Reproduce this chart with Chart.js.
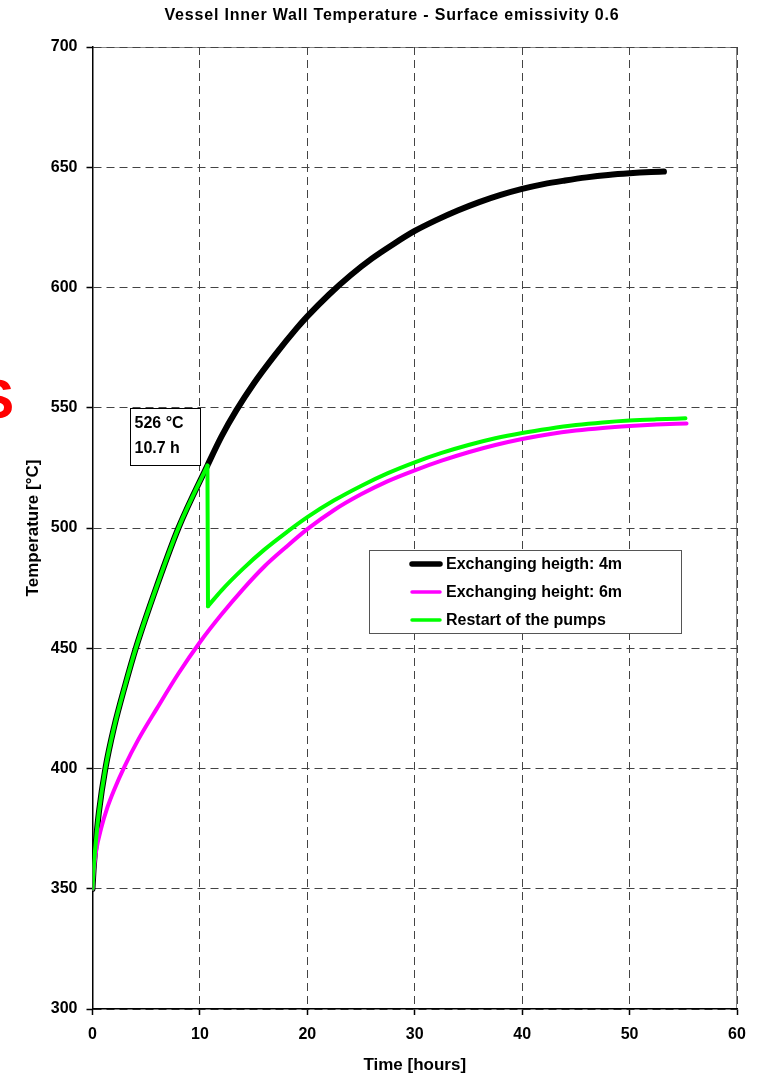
<!DOCTYPE html>
<html>
<head>
<meta charset="utf-8">
<script src="https://cdn.jsdelivr.net/npm/chart.js@4.4.0/dist/chart.umd.min.js"></script>
<style>
  html, body { margin: 0; padding: 0; background: #fff; }
  canvas { display: block; }
</style>
</head>
<body>
<canvas id="chart" width="758" height="1080"></canvas>
<script>
const FONT = "'Liberation Sans', Arial, sans-serif"

const hourTicks = [0, 10, 20, 30, 40, 50, 60]
const tempTicks = [300, 350, 400, 450, 500, 550, 600, 650, 700]

// Exchanging heigth: 4m
const h4Time = [0, 0.1, 0.3, 0.6, 1.2, 2, 3, 4.1, 6, 8, 10.7, 12, 13.4, 15, 17, 19, 20, 22, 24, 26, 28, 30, 32, 34, 36, 38, 40, 42, 44, 46, 48, 50, 52, 53.2]
const h4Temp = [350, 358, 369, 382, 400, 417, 434, 451, 476, 500, 526, 538, 549, 560, 572, 583, 588, 597, 605, 612, 618, 623.5, 628, 632, 635.5, 638.5, 641, 643, 644.5, 645.8, 646.8, 647.5, 648, 648.2]

// Exchanging height: 6m
const h6Time = [0, 0.1, 0.35, 0.8, 1.4, 2, 3, 4.2, 6, 8, 10, 12, 14, 16, 18, 20, 22.5, 25, 27.5, 30, 32.5, 35, 37.5, 40, 42.5, 45, 47.5, 50, 52.5, 55.3]
const h6Temp = [350, 357, 366, 375, 384, 391, 401, 411.5, 425, 439.5, 452.5, 464, 474.5, 484, 492, 499.5, 507.5, 514, 519.5, 524, 528, 531.5, 534.5, 537, 539, 540.5, 541.6, 542.4, 543, 543.5]

// Restart of the pumps: same heating as 4m, drop at 10.7 h, then recovery
const pumpsBeforeTime = [0, 0.1, 0.3, 0.6, 1.2, 2, 3, 4.1, 6, 8, 10.7]
const pumpsBeforeTemp = [350, 358, 369, 382, 400, 417, 434, 451, 476, 500, 526]
const pumpsDropTime = [10.7, 10.75]
const pumpsDropTemp = [526, 467.5]
const pumpsAfterTime = [10.75, 12, 14, 16, 18, 20, 22.5, 25, 27.5, 30, 32.5, 35, 37.5, 40, 42.5, 45, 47.5, 50, 52.5, 55.2]
const pumpsAfterTemp = [467.5, 474, 483, 491, 498, 504.5, 511.5, 517.5, 522.8, 527.3, 531.2, 534.5, 537.3, 539.5, 541.3, 542.8, 543.9, 544.7, 545.2, 545.6]

const peakTemp = 526
const peakTime = 10.7

const toPoints = (xs, ys) => xs.map((x, i) => ({x: x, y: ys[i]}))

const lineSet = (label, xs, ys, color, width, order, legend) => ({
  label: label,
  data: toPoints(xs, ys),
  borderColor: color,
  borderWidth: width,
  pointRadius: 0,
  fill: false,
  cubicInterpolationMode: 'monotone',
  borderCapStyle: 'round',
  borderJoinStyle: 'round',
  order: order,
  inLegend: legend
})

const frame = {
  id: 'frame',
  beforeDraw(chart) {
    const {ctx, chartArea: a} = chart
    ctx.save()
    ctx.strokeStyle = '#888'
    ctx.lineWidth = 1
    ctx.beginPath()
    ctx.moveTo(a.left, a.top + 0.5)
    ctx.lineTo(a.right - 0.5, a.top + 0.5)
    ctx.lineTo(a.right - 0.5, a.bottom)
    ctx.stroke()
    ctx.restore()
  }
}

const overlay = {
  id: 'overlay',
  afterDraw(chart) {
    const {ctx, scales} = chart
    const x = scales.x, y = scales.y
    ctx.save()

    // title
    ctx.fillStyle = '#000'
    ctx.font = 'bold 16px ' + FONT
    ctx.letterSpacing = '0.8px'
    ctx.textAlign = 'center'
    ctx.textBaseline = 'alphabetic'
    ctx.fillText('Vessel Inner Wall Temperature - Surface emissivity 0.6', 392, 20)
    ctx.letterSpacing = '0px'

    // red mark cut by the left edge
    ctx.fillStyle = '#ff0000'
    ctx.font = 'bold 56px ' + FONT
    ctx.textAlign = 'right'
    ctx.fillText('S', 14, 418)

    // peak label box
    const bx2 = Math.round(x.getPixelForValue(10)) + 0.5
    const by1 = Math.round(y.getPixelForValue(550)) + 0.5
    const bx1 = bx2 - 70, by2 = by1 + 57
    ctx.fillStyle = '#fff'
    ctx.fillRect(bx1, by1, bx2 - bx1, by2 - by1)
    ctx.strokeStyle = '#000'
    ctx.lineWidth = 1
    ctx.strokeRect(bx1, by1, bx2 - bx1, by2 - by1)
    ctx.fillStyle = '#000'
    ctx.font = 'bold 16px ' + FONT
    ctx.textAlign = 'left'
    ctx.fillText(peakTemp + ' \u00B0C', bx1 + 4, by1 + 19)
    ctx.fillText(peakTime + ' h', bx1 + 4, by1 + 44)

    // legend
    const lx = 369.5, ly = 550.5, lw = 312, lh = 83
    ctx.fillStyle = '#fff'
    ctx.fillRect(lx, ly, lw, lh)
    ctx.strokeStyle = '#555'
    ctx.strokeRect(lx, ly, lw, lh)
    const items = chart.data.datasets.filter(d => d.inLegend)
    items.forEach((d, i) => {
      const ry = 564 + i * 28
      ctx.strokeStyle = d.borderColor
      ctx.lineWidth = i === 0 ? 5.5 : 3.5
      ctx.lineCap = 'round'
      ctx.beginPath()
      ctx.moveTo(412, ry)
      ctx.lineTo(440, ry)
      ctx.stroke()
      ctx.fillStyle = '#000'
      ctx.textBaseline = 'middle'
      ctx.fillText(d.label, 446, ry + 1)
    })
    ctx.restore()
  }
}

const tickFont = {family: FONT, size: 16, weight: 'bold'}
const titleFont = {family: FONT, size: 17, weight: 'bold'}

new Chart(document.getElementById('chart'), {
  type: 'line',
  data: {
    datasets: [
      lineSet('Exchanging heigth: 4m', h4Time, h4Temp, '#000000', 6, 3, true),
      lineSet('Exchanging height: 6m', h6Time, h6Temp, '#ff00ff', 4, 2, true),
      lineSet('Restart of the pumps', pumpsAfterTime, pumpsAfterTemp, '#00ff00', 4, 1, true),
      lineSet('Restart of the pumps', pumpsBeforeTime, pumpsBeforeTemp, '#00ff00', 4, 1, false),
      lineSet('Restart of the pumps', pumpsDropTime, pumpsDropTemp, '#00ff00', 4, 1, false)
    ]
  },
  options: {
    responsive: false,
    animation: false,
    devicePixelRatio: 1,
    layout: {padding: {top: 47, right: 21, left: 0, bottom: 0}},
    plugins: {
      legend: {display: false},
      title: {display: false},
      tooltip: {enabled: false}
    },
    scales: {
      x: {
        type: 'linear',
        min: 0,
        max: 60,
        afterBuildTicks: s => { s.ticks = hourTicks.map(v => ({value: v})) },
        afterFit: s => { s.height = 71 },
        ticks: {color: '#000', font: tickFont, padding: 10},
        grid: {color: '#444', lineWidth: 1, tickLength: 6, tickColor: '#000', tickWidth: 1.5},
        border: {display: true, color: '#000', width: 1.5, dash: [8, 5]},
        title: {display: true, text: 'Time [hours]', color: '#000', font: titleFont, padding: {top: 0, bottom: 4}}
      },
      y: {
        type: 'linear',
        min: 300,
        max: 700,
        afterBuildTicks: s => { s.ticks = tempTicks.map(v => ({value: v})) },
        afterFit: s => { s.width = 92.5 },
        ticks: {color: '#000', font: tickFont, padding: 9},
        grid: {color: '#444', lineWidth: 1, tickLength: 6, tickColor: '#000', tickWidth: 1.5},
        border: {display: true, color: '#000', width: 1.5, dash: [8, 5]},
        title: {display: true, text: 'Temperature [\u00B0C]', color: '#000', font: titleFont, padding: {top: 23, bottom: 0}}
      }
    }
  },
  plugins: [frame, overlay]
})
</script>
</body>
</html>
